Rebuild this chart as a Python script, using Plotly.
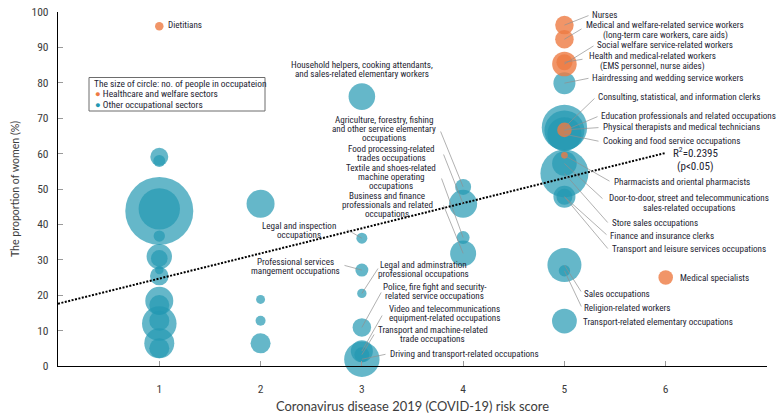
import plotly.graph_objects as go

# ---------------- data ----------------
# Other occupational sectors (teal bubbles)
other_names = [
    "", "", "", "", "", "", "", "", "", "", "", "", "", "", "",
    "", "", "", "",
    "Household helpers", "Legal and inspection", "Professional services",
    "Legal and administration", "Police", "Video", "Transport and machine", "Driving",
    "Agriculture", "Food processing", "Textile", "Business",
    "Hairdressing", "Consulting", "Education", "Cooking", "Door-to-door", "Store sales",
    "Finance", "Transport and leisure", "Sales", "Religion", "Transport elementary",
]
other_risk = [
    1, 1, 1, 1, 1, 1, 1, 1, 1, 1, 1, 1, 1, 1, 1,
    2, 2, 2, 2,
    3, 3, 3, 3, 3, 3, 3, 3,
    4, 4, 4, 4,
    5, 5, 5, 5, 5, 5, 5, 5, 5, 5, 5,
]
other_women = [
    59.1, 57.9, 43.8, 44.4, 36.7, 30.9, 30.4, 27.1, 25.4, 18.4, 17.2, 12.0, 12.8, 6.4, 5.0,
    45.8, 18.8, 12.8, 6.4,
    76.1, 36.1, 27.1, 20.5, 10.9, 4.2, 3.2, 1.9,
    50.6, 45.8, 36.3, 31.8,
    79.9, 67.4, 66.5, 65.5, 57.2, 54.4, 47.8, 47.8, 28.5, 26.9, 12.7,
]
# no. of people in occupation (thousands, estimated from circle size)
other_workers = [
    81, 36, 1156, 428, 32, 161, 69, 18, 86, 196, 100, 299, 100, 225, 100,
    196, 20, 25, 100,
    177, 30, 42, 22, 86, 121, 56, 313,
    64, 196, 42, 169,
    121, 515, 400, 289, 151, 576, 121, 64, 289, 32, 154,
]

# Healthcare and welfare sectors (orange bubbles)
health_names = ["Dietitians", "Nurses", "Medical and welfare", "Social welfare",
                "Health and medical", "Physical therapists", "Pharmacists", "Medical specialists"]
health_risk = [1, 5, 5, 5, 5, 5, 5, 6]
health_women = [96.0, 96.3, 92.3, 85.3, 85.8, 66.7, 59.5, 25.0]
health_workers = [18, 86, 86, 151, 64, 53, 11, 53]

# regression line: women(%) = intercept + slope * risk
trend_intercept = 17.6
trend_slope = 7.1
trend_risk = [0, 6]

x_ticks = [1, 2, 3, 4, 5, 6]
y_ticks = list(range(0, 101, 10))

# ---------------- layout geometry ----------------
W, H = 782, 416
ML, MR, MT, MB = 58, 15, 12, 50
X_RANGE = [0, 7]
Y_RANGE = [0, 100]
PW = W - ML - MR
PH = H - MT - MB

def px_x(v):
    return ML + (v - X_RANGE[0]) / (X_RANGE[1] - X_RANGE[0]) * PW

def px_y(v):
    return MT + (Y_RANGE[1] - v) / (Y_RANGE[1] - Y_RANGE[0]) * PH

def paper_x(p):
    return (p - ML) / PW

def paper_y(p):
    return (H - MB - p) / PH

TEAL = "rgb(36,152,178)"
ORANGE = "rgb(238,122,66)"
TXT = "#242432"
LBL_FONT = "Liberation Sans Narrow, Roboto Condensed, Roboto, sans-serif"
AX_FONT = "Lato, Noto Sans, sans-serif"
LBL_SIZE = 9.1

fig = go.Figure()

# teal bubbles (larger first)
order = sorted(range(len(other_workers)), key=lambda i: -other_workers[i])
fig.add_trace(go.Scatter(
    x=[other_risk[i] for i in order], y=[other_women[i] for i in order],
    mode="markers",
    marker=dict(size=[other_workers[i] for i in order], sizemode="area", sizeref=0.5,
                color=TEAL, opacity=0.7, line=dict(width=0)),
    showlegend=False, hoverinfo="skip", cliponaxis=False,
))
horder = sorted(range(len(health_workers)), key=lambda i: -health_workers[i])
fig.add_trace(go.Scatter(
    x=[health_risk[i] for i in horder], y=[health_women[i] for i in horder],
    mode="markers",
    marker=dict(size=[health_workers[i] for i in horder], sizemode="area", sizeref=0.5,
                color=ORANGE, opacity=0.8, line=dict(width=0)),
    showlegend=False, hoverinfo="skip", cliponaxis=False,
))
fig.add_trace(go.Scatter(
    x=trend_risk, y=[trend_intercept + trend_slope * r for r in trend_risk],
    mode="lines", line=dict(color="black", width=2, dash="2px,1.5px"),
    showlegend=False, hoverinfo="skip",
))

def point_of(name):
    if name in other_names:
        i = other_names.index(name)
        return other_risk[i], other_women[i]
    i = health_names.index(name)
    return health_risk[i], health_women[i]

annotations = []
LS = 9.0  # line spacing px

def add_label(lines, x, y, xanchor="left", ls=LS, size=LBL_SIZE, color=TXT, font=LBL_FONT):
    n = len(lines)
    for k, ln in enumerate(lines):
        yy = y + (k - (n - 1) / 2) * ls
        annotations.append(dict(
            xref="paper", yref="paper", x=paper_x(x), y=paper_y(yy),
            xanchor=xanchor, yanchor="middle", text=ln, showarrow=False,
            font=dict(family=font, size=size, color=color), borderpad=0,
        ))

def add_leader(name, tail):
    hx, hy = point_of(name)
    annotations.append(dict(
        x=hx, y=hy, xref="x", yref="y", text="", showarrow=True,
        arrowhead=0, arrowwidth=0.7, arrowcolor="#8f8f8f", standoff=0,
        ax=tail[0] - px_x(hx), ay=tail[1] - px_y(hy),
    ))

# (name, lines, anchor x, center y, xanchor, leader tail or None, line spacing)
labels = [
    ("Nurses", ["Nurses"], 591, 14.5, "left", (590, 15), LS),
    ("Medical and welfare", ["Medical and welfare-related service workers",
                             "(long-term care workers, care aids)"], 665, 30, "center", (583, 28), 10),
    ("Social welfare", ["Social welfare service-related workers"], 596, 44.5, "left", (595, 45), LS),
    ("Health and medical", ["Health and medical-related workers",
                            "(EMS personnel, nurse aides)"], 652, 61, "center", (584, 59), 10),
    ("Hairdressing", ["Hairdressing and wedding service workers"], 591, 77.5, "left", (590, 78), LS),
    ("Consulting", ["Consulting, statistical, and information clerks"], 597, 96.7, "left", (596, 97), LS),
    ("Education", ["Education professionals and related occupations"], 600, 115.7, "left", (599, 116), LS),
    ("Physical therapists", ["Physical therapists and medical technicians"], 601.5, 127.3, "left", (600, 127.5), LS),
    ("Cooking", ["Cooking and food service occupations"], 601.5, 141.3, "left", (600, 141.5), LS),
    ("Pharmacists", ["Pharmacists and oriental pharmacists"], 612.5, 181.7, "left", (611, 182), LS),
    ("Door-to-door", ["Door-to-door, street and telecommunications",
                      "sales-related occupations"], 689, 203, "center", (604, 200), 10),
    ("Store sales", ["Store sales occupations"], 610.5, 223.3, "left", (609, 224), LS),
    ("Finance", ["Finance and insurance clerks"], 609, 236, "left", (608, 236), LS),
    ("Transport and leisure", ["Transport and leisure services occupations"], 610.5, 249.3, "left", (609, 250), LS),
    ("Medical specialists", ["Medical specialists"], 679, 277.7, "left", None, LS),
    ("Sales", ["Sales occupations"], 583, 293.7, "left", (582, 293), LS),
    ("Religion", ["Religion-related workers"], 583, 308.3, "left", (582, 308), LS),
    ("Transport elementary", ["Transport-related elementary occupations"], 581.5, 322.3, "left", None, LS),
    ("Household helpers", ["Household helpers, cooking attendants,",
                           "and sales-related elementary workers"], 362, 69, "center", None, LS),
    ("Agriculture", ["Agriculture, forestry, fishing", "and other service elementary",
                     "occupations"], 384, 129, "center", (440, 130), LS),
    ("Food processing", ["Food processing-related", "trades occupations"], 391.5, 153.3, "center", (443, 153), LS),
    ("Textile", ["Textile and shoes-related", "machine operating", "occupations"], 391, 176.7, "center", (441, 177), LS),
    ("Business", ["Business and finance", "professionals and related", "occupations"], 387, 205, "center", (443, 204), LS),
    ("Legal and inspection", ["Legal and inspection", "occupations"], 299, 230.5, "center", (346, 229), LS),
    ("Professional services", ["Professional services", "mangement occupations"], 295, 266.5, "center", (343, 265), LS),
    ("Legal and administration", ["Legal and adminstration", "professional occupations"], 423, 269, "center", (379, 267), LS),
    ("Police", ["Police, fire fight and security-", "related service occupations"], 435, 291, "center", (382, 291), LS),
    ("Video", ["Video and telecommunications", "equipment-related occupations"], 444, 313, "center", (383, 314), LS),
    ("Transport and machine", ["Transport and machine-related", "trade occupations"], 433, 334, "center", (375, 333), LS),
    ("Driving", ["Driving and transport-related occupations"], 389.3, 354, "left", (387, 354), LS),
    ("Dietitians", ["Dietitians"], 167, 25, "left", None, LS),
]
for name, lines, x, y, xa, tail, ls in labels:
    if tail is not None:
        add_leader(name, tail)
    add_label(lines, x, y, xa, ls)

# R-squared note
annotations.append(dict(xref="paper", yref="paper", x=paper_x(695), y=paper_y(152.3),
                        text="R<sup>2</sup>=0.2395", showarrow=False, xanchor="center", yanchor="middle",
                        font=dict(family=LBL_FONT, size=11, color=TXT), borderpad=0))
annotations.append(dict(xref="paper", yref="paper", x=paper_x(695), y=paper_y(166.3),
                        text="(p<0.05)", showarrow=False, xanchor="center", yanchor="middle",
                        font=dict(family=LBL_FONT, size=11, color=TXT), borderpad=0))

# legend box
legend_lines = [
    "The size of circle: no. of people in occupateion",
    "<span style='color:%s'>●</span> Healthcare and welfare sectors" % ORANGE,
    "<span style='color:%s'>●</span> Other occupational sectors" % TEAL,
]
legend_y = [83.6, 94.0, 104.0]
for k, ln in enumerate(legend_lines):
    annotations.append(dict(xref="paper", yref="paper", x=paper_x(93 if k == 0 else 94),
                            y=paper_y(legend_y[k]), text=ln, showarrow=False,
                            xanchor="left", yanchor="middle", borderpad=0,
                            font=dict(family=LBL_FONT, size=9.4, color=TXT)))
shapes = [dict(type="rect", xref="paper", yref="paper",
               x0=paper_x(89), x1=paper_x(265), y0=paper_y(77.5), y1=paper_y(111),
               line=dict(color="#6d6d6d", width=1), fillcolor="rgba(0,0,0,0)")]

axis_common = dict(ticks="inside", ticklen=5, tickwidth=1, tickcolor="#9a9a9a",
                   showline=True, linecolor="black", linewidth=1.3, showgrid=False,
                   zeroline=False, automargin=False,
                   tickfont=dict(family=LBL_FONT, size=11.5, color="#3c3c3c"))

fig.update_layout(
    template="none",
    width=W, height=H,
    margin=dict(l=ML, r=MR, t=MT, b=MB, pad=0, autoexpand=False),
    paper_bgcolor="white", plot_bgcolor="white",
    showlegend=False,
    annotations=annotations, shapes=shapes,
    xaxis=dict(range=X_RANGE, tickvals=x_ticks, ticklabelstandoff=12,
               title=dict(text="Coronavirus disease 2019 (COVID-19) risk score", standoff=7,
                          font=dict(family=AX_FONT, size=12.9, color="#3c3c3c")),
               **axis_common),
    yaxis=dict(range=Y_RANGE, tickvals=y_ticks, ticklabelstandoff=6,
               title=dict(text="The proportion of women (%)", standoff=9,
                          font=dict(family=AX_FONT, size=10.6, color="#3c3c3c")),
               **axis_common),
)

fig.write_html("out.html", config={"displayModeBar": False},
               post_script="document.body.style.margin='0px';")
